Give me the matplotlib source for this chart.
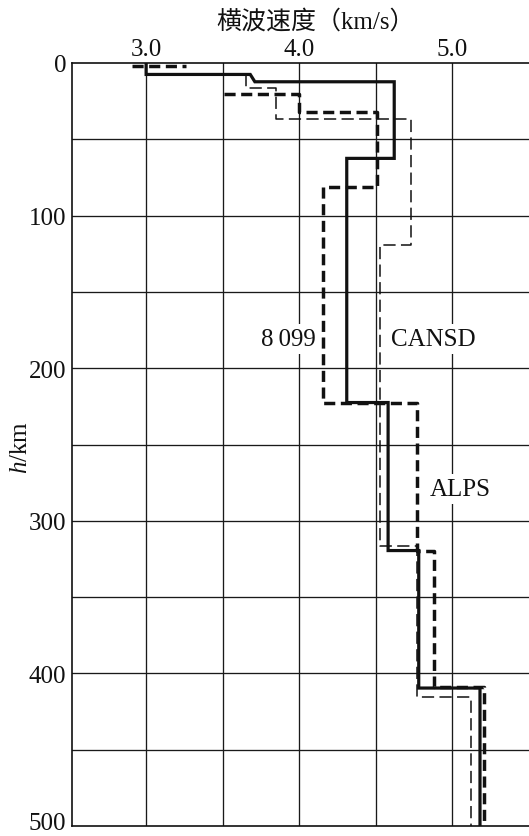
import matplotlib
matplotlib.use("Agg")
import matplotlib.pyplot as plt
from matplotlib.transforms import ScaledTranslation

plt.rcParams['font.family'] = ['Liberation Serif', 'Noto Sans CJK SC']
plt.rcParams['mathtext.fontset'] = 'custom'
plt.rcParams['mathtext.rm'] = 'Liberation Serif'
plt.rcParams['mathtext.it'] = 'Liberation Serif:italic'

# ---- data (velocity km/s, depth km) ----
solid_v = [3.00, 3.00, 3.68, 3.71, 4.62, 4.62, 4.31, 4.31, 4.58, 4.58, 4.78, 4.78, 5.18, 5.18]
solid_h = [0, 7.5, 7.5, 12.3, 12.3, 62.5, 62.5, 222.5, 222.5, 319.5, 319.5, 409.6, 409.6, 500]

thick_top_v = [2.91, 3.26]
thick_top_h = [2.2, 2.2]
thick_v = [3.51, 4.00, 4.00, 4.505, 4.505, 4.157, 4.157, 4.77, 4.77, 4.88, 4.88, 5.205, 5.205]
thick_h = [20, 20, 32, 32, 81.5, 81.5, 222.5, 222.5, 320, 320, 409, 409, 500]

thin_v = [3.65, 3.65, 3.85, 3.85, 4.73, 4.73, 4.53, 4.53, 4.77, 4.77, 5.12, 5.12]
thin_h = [7.5, 16.5, 16.5, 36.5, 36.5, 119, 119, 316.5, 316.5, 415.7, 415.7, 500]

x_ticks = [3.0, 4.0, 5.0]
x_ticklabels = ["3.0", "4.0", "5.0"]
y_ticks = [0, 100, 200, 300, 400, 500]
y_ticklabels = ["0", "100", "200", "300", "400", "500"]

labels = ["8\u2009099", "CANSD", "ALPS"]
label_v = [4.11, 4.60, 4.85]
label_h = [181, 181, 279]
label_ha = ["right", "left", "left"]

W, H = 529, 837
fig = plt.figure(figsize=(W / 100, H / 100), dpi=100)
ax = fig.add_axes([72 / W, 1 - 827 / H, 1 - 72 / W, (827 - 64) / H])

ax.set_xlim(2.516, 5.5)
ax.set_ylim(500, 0)

gc = '#1a1a1a'
for xv in [3.0, 3.5, 4.0, 4.5, 5.0]:
    ax.axvline(xv, color=gc, lw=0.95, zorder=0.5)
for yv in range(50, 500, 50):
    ax.axhline(yv, color=gc, lw=0.95, zorder=0.5)

ax.plot(solid_v, solid_h, color='#111111', lw=2.3, solid_joinstyle='miter', zorder=3)
ax.plot(thick_top_v, thick_top_h, color='#111111', lw=2.5, dashes=(3.2, 1.6), zorder=3)
ax.plot(thick_v, thick_h, color='#111111', lw=2.5, dashes=(3.2, 1.6), zorder=3)
ax.plot(thin_v, thin_h, color='#111111', lw=1.1, dashes=(8, 3.5), zorder=3)

for t, v, h, ha in zip(labels, label_v, label_h, label_ha):
    ax.text(v, h, t, ha=ha, va='center', fontsize=18, color='#111111', zorder=1,
            bbox=dict(boxstyle='square,pad=0.15', fc='white', ec='none'))

ax.xaxis.tick_top()
ax.set_xticks(x_ticks)
ax.set_xticklabels(x_ticklabels)
ax.set_yticks(y_ticks)
ax.set_yticklabels(y_ticklabels)
ax.tick_params(axis='both', length=0, labelsize=18, colors='#111111')
ax.tick_params(axis='x', pad=2)
ax.tick_params(axis='y', pad=4)

ylabs = ax.get_yticklabels()
ylabs[-1].set_transform(ylabs[-1].get_transform() + ScaledTranslation(0, 4 / 72, fig.dpi_scale_trans))

for s in ['left', 'top', 'bottom']:
    ax.spines[s].set_linewidth(1.2)
    ax.spines[s].set_color('#111111')
ax.spines['right'].set_visible(False)

fig.text(316 / W, 1 - 22 / H, "横波速度（km/s）", ha='center', va='center', fontsize=18,
         color='#111111')
fig.text(21 / W, 1 - 447 / H, "$h$/km", rotation=90, ha='center', va='center',
         fontsize=18, color='#111111')

fig.savefig("out.png", dpi=100)
